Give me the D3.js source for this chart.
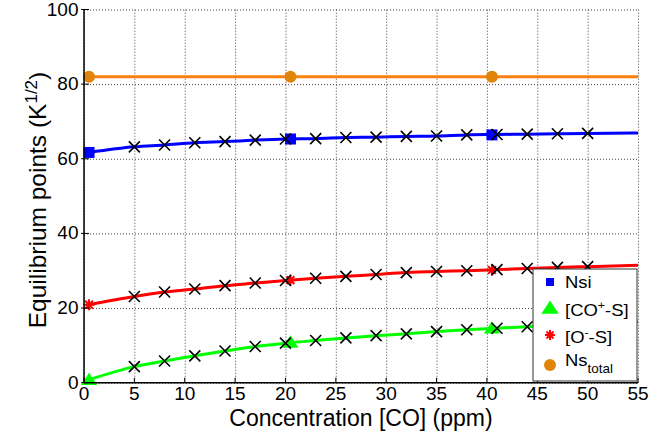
<!DOCTYPE html>
<html>
<head>
<meta charset="utf-8">
<script src="https://cdn.jsdelivr.net/npm/d3@7"></script>
<style>
  body { margin: 0; background: #fff; }
  text { font-family: "Liberation Sans", Arial, Helvetica, sans-serif; fill: #000; }
</style>
</head>
<body>
<svg id="chart" width="651" height="438"></svg>
<script>
// Simulated equilibrium points (black crosses) along the CO concentration axis
const simConc = [5, 8, 11, 14, 17, 20, 23, 26, 29, 32, 35, 38, 41, 44, 47, 50];
const nsiSim  = [63.2, 63.7, 64.3, 64.6, 65.0, 65.3, 65.4, 65.7, 65.8, 66.0, 66.1, 66.4, 66.5, 66.6, 66.7, 66.8];
const oSim    = [23.1, 24.3, 25.1, 26.0, 26.7, 27.4, 28.0, 28.5, 29.0, 29.5, 29.8, 30.0, 30.3, 30.6, 30.9, 31.1];
const coSim   = [4.3, 5.8, 7.2, 8.5, 9.7, 10.6, 11.3, 12.0, 12.6, 13.1, 13.7, 14.2, 14.6, 15.0, 15.4, 15.7];

// Highlighted points for each species
const expConc    = [0.5, 20.5, 40.5];
const nsiExp     = [61.7, 65.3, 66.4];
const coExp      = [0.8, 10.8, 14.6];
const oExp       = [20.9, 27.5, 30.2];
const nsTotalExp = [82, 82, 82];

// Curve values at the right end of the axis
const curveEnd   = 55;
const nsiEnd     = 66.9;
const coEnd      = 16.3;
const oEnd       = 31.5;
const nsTotalEnd = 82;

const xTicks = [0, 5, 10, 15, 20, 25, 30, 35, 40, 45, 50, 55];
const yTicks = [0, 20, 40, 60, 80, 100];

const svg = d3.select("#chart");
const plotL = 84, plotR = 638, plotT = 9.5, plotB = 382.7;
const x = d3.scaleLinear().domain([0, 55]).range([plotL, plotR]);
const y = d3.scaleLinear().domain([0, 100]).range([plotB, plotT]);

// dotted grid
const grid = svg.append("g");
grid.append("g").attr("transform", `translate(0,${plotB})`)
  .call(d3.axisBottom(x).tickValues(xTicks).tickSize(-(plotB - plotT)).tickFormat(""))
  .call(g => g.select(".domain").remove());
grid.append("g").attr("transform", `translate(${plotL},0)`)
  .call(d3.axisLeft(y).tickValues(yTicks).tickSize(-(plotR - plotL)).tickFormat(""))
  .call(g => g.select(".domain").remove());
grid.selectAll(".tick line").attr("stroke", "#444").attr("stroke-width", 1).attr("stroke-dasharray", "1,2");

// series definitions
const series = [
  { sim: nsiSim, exp: nsiExp, end: nsiEnd, color: "#0000ff", marker: "square" },
  { sim: coSim, exp: coExp, end: coEnd, color: "#00ff00", marker: "triangle" },
  { sim: oSim, exp: oExp, end: oEnd, color: "#ff0000", marker: "star" },
];

const line = d3.line().x(d => x(d[0])).y(d => y(d[1])).curve(d3.curveMonotoneX);

// Ns total line
svg.append("path")
  .attr("d", line([[expConc[0], nsTotalExp[0]], [curveEnd, nsTotalEnd]]))
  .attr("fill", "none").attr("stroke", "#ff7f0e").attr("stroke-width", 3);

function drawMarker(g, type, cx, cy, color, s) {
  if (type === "square") {
    g.append("rect").attr("x", cx - s / 2).attr("y", cy - s / 2).attr("width", s).attr("height", s).attr("fill", color);
  } else if (type === "triangle") {
    const h = s * 0.9;
    g.append("path").attr("d", `M${cx},${cy - h * 0.6}L${cx + s * 0.62},${cy + h * 0.45}L${cx - s * 0.62},${cy + h * 0.45}Z`).attr("fill", color);
  } else if (type === "star") {
    const r = s / 2;
    let d = "";
    for (let k = 0; k < 4; k++) {
      const a = k * Math.PI / 4;
      d += `M${cx - r * Math.cos(a)},${cy - r * Math.sin(a)}L${cx + r * Math.cos(a)},${cy + r * Math.sin(a)}`;
    }
    g.append("path").attr("d", d).attr("stroke", color).attr("stroke-width", 2).attr("fill", "none");
  } else if (type === "circle") {
    g.append("circle").attr("cx", cx).attr("cy", cy).attr("r", s / 2).attr("fill", color);
  } else if (type === "cross") {
    const r = s / 2;
    g.append("path").attr("d", `M${cx - r},${cy - r}L${cx + r},${cy + r}M${cx - r},${cy + r}L${cx + r},${cy - r}`)
      .attr("stroke", color).attr("stroke-width", 1.6).attr("fill", "none");
  }
}

series.forEach(s => {
  const pts = [[expConc[0], s.exp[0]]].concat(simConc.map((c, i) => [c, s.sim[i]])).concat([[curveEnd, s.end]]);
  svg.append("path").attr("d", line(pts)).attr("fill", "none").attr("stroke", s.color).attr("stroke-width", 3);
});

const mk = svg.append("g");
series.forEach(s => {
  expConc.forEach((c, i) => drawMarker(mk, s.marker, x(c), y(s.exp[i]), s.color, s.marker === "triangle" ? 13 : 11));
  simConc.forEach((c, i) => drawMarker(mk, "cross", x(c), y(s.sim[i]), "#000", 11));
});
expConc.forEach((c, i) => drawMarker(mk, "circle", x(c), y(nsTotalExp[i]), "#e0840a", 12));

// axes
svg.append("line").attr("x1", plotL).attr("x2", plotL).attr("y1", plotT).attr("y2", plotB).attr("stroke", "#000").attr("stroke-width", 1.5);
svg.append("line").attr("x1", plotL).attr("x2", plotR).attr("y1", plotB).attr("y2", plotB).attr("stroke", "#000").attr("stroke-width", 1.5);
xTicks.forEach(v => svg.append("line").attr("x1", x(v)).attr("x2", x(v)).attr("y1", plotB).attr("y2", plotB - 5).attr("stroke", "#000").attr("stroke-width", 1));
yTicks.forEach(v => svg.append("line").attr("x1", plotL - 3).attr("x2", plotL + 5).attr("y1", y(v)).attr("y2", y(v)).attr("stroke", "#000").attr("stroke-width", 1));

// tick labels
xTicks.forEach(v => svg.append("text").attr("x", x(v)).attr("y", 400)
  .attr("text-anchor", "middle").attr("font-size", 19).text(v));
yTicks.forEach(v => svg.append("text").attr("x", 78.5).attr("y", y(v) + 6)
  .attr("text-anchor", "end").attr("font-size", 19).text(v));

// axis titles
svg.append("text")
  .attr("x", 361).attr("y", 426)
  .attr("text-anchor", "middle").attr("font-size", 23)
  .text("Concentration [CO] (ppm)");

const yt = svg.append("text")
  .attr("transform", `translate(46,200) rotate(-90)`)
  .attr("text-anchor", "middle").attr("font-size", 24.5);
yt.append("tspan").text("Equilibrium points (K");
yt.append("tspan").attr("font-size", 17).attr("dy", -9).text("1/2");
yt.append("tspan").attr("dy", 9).text(")");

// legend
const lg = svg.append("g");
lg.append("rect").attr("x", 533).attr("y", 269).attr("width", 104).attr("height", 112)
  .attr("fill", "#fff").attr("stroke", "#333").attr("stroke-width", 1);
const legendRows = [
  { cy: 282, base: 288 },
  { cy: 308, base: 316 },
  { cy: 335, base: 343 },
  { cy: 365, base: 366 },
];
drawMarker(lg, "square", 550, legendRows[0].cy, "#0000ff", 8);
drawMarker(lg, "triangle", 550, legendRows[1].cy, "#00ff00", 14);
drawMarker(lg, "star", 550, legendRows[2].cy, "#ff0000", 10);
drawMarker(lg, "circle", 550, legendRows[3].cy, "#e0840a", 12);

function legendText(row) {
  return lg.append("text").attr("transform", `translate(565,${row.base}) scale(1.12,1)`).attr("font-size", 16.5);
}
legendText(legendRows[0]).text("Nsi");
const t1 = legendText(legendRows[1]);
t1.append("tspan").text("[CO");
t1.append("tspan").attr("font-size", 11).attr("dy", -7).text("+");
t1.append("tspan").attr("dy", 7).text("-S]");
const t2 = legendText(legendRows[2]);
t2.append("tspan").text("[O");
t2.append("tspan").attr("font-size", 11).attr("dy", -7).text("-");
t2.append("tspan").attr("dy", 7).text("-S]");
const t3 = legendText(legendRows[3]);
t3.append("tspan").text("Ns");
t3.append("tspan").attr("font-size", 12).attr("dy", 7).text("total");
</script>
</body>
</html>
